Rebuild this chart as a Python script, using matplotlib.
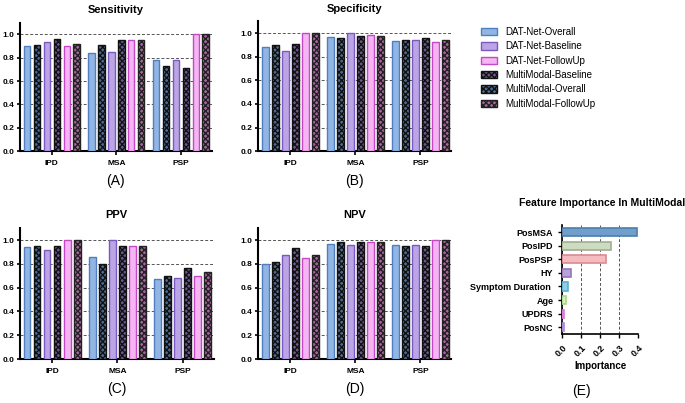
import matplotlib
matplotlib.use("Agg")
import matplotlib.pyplot as plt
import numpy as np

plt.rcParams['font.family'] = ['Liberation Sans', 'DejaVu Sans']

# ---- data ----
groups = ["IPD", "MSA", "PSP"]
series = ["DAT-Net-Overall", "MultiModal-Overall", "DAT-Net-Baseline",
          "MultiModal-Baseline", "DAT-Net-FollowUp", "MultiModal-FollowUp"]

# each row = one group (IPD, MSA, PSP), columns in the order of `series`
sensitivity = [[0.90, 0.91, 0.93, 0.96, 0.90, 0.92],
               [0.84, 0.91, 0.85, 0.95, 0.95, 0.95],
               [0.78, 0.73, 0.78, 0.71, 1.00, 1.00]]
specificity = [[0.88, 0.90, 0.85, 0.91, 1.00, 1.00],
               [0.97, 0.955, 1.00, 0.98, 0.985, 0.98],
               [0.93, 0.94, 0.94, 0.96, 0.925, 0.94]]
ppv = [[0.94, 0.95, 0.92, 0.95, 1.00, 1.00],
       [0.855, 0.80, 1.00, 0.95, 0.95, 0.95],
       [0.67, 0.70, 0.685, 0.765, 0.695, 0.735]]
npv = [[0.80, 0.815, 0.875, 0.935, 0.845, 0.87],
       [0.965, 0.98, 0.96, 0.985, 0.985, 0.985],
       [0.96, 0.95, 0.96, 0.95, 1.00, 1.00]]

features = ["PosMSA", "PosIPD", "PosPSP", "HY", "Symptom Duration ", "Age", "UPDRS", "PosNC"]
importance = [0.39, 0.255, 0.228, 0.044, 0.032, 0.019, 0.01, 0.01]

legend_order = ["DAT-Net-Overall", "DAT-Net-Baseline", "DAT-Net-FollowUp",
                "MultiModal-Baseline", "MultiModal-Overall", "MultiModal-FollowUp"]

# styles per series
styles = {
    "DAT-Net-Overall":     dict(facecolor="#93b5e3", edgecolor="#4f7fc0", hatch=None),
    "MultiModal-Overall":  dict(facecolor="#4d6c94", edgecolor="#111111", hatch="xxxxxx"),
    "DAT-Net-Baseline":    dict(facecolor="#bba5e4", edgecolor="#7a5ac2", hatch=None),
    "MultiModal-Baseline": dict(facecolor="#6c5a8e", edgecolor="#111111", hatch="xxxxxx"),
    "DAT-Net-FollowUp":    dict(facecolor="#f4b5f2", edgecolor="#c548c6", hatch=None),
    "MultiModal-FollowUp": dict(facecolor="#aa66a2", edgecolor="#222222", hatch="xxxxxx"),
}
feat_fill = ["#6f9fcc", "#cddcc0", "#f5bcc0", "#b9a2d8", "#8fcfe6", "#d4f2b8", "#f2a8ea", "#c8b0ea"]
feat_edge = ["#4e7ea8", "#9fae92", "#dc8a92", "#9278b6", "#5eaecd", "#a8d88a", "#d878d0", "#a68ad0"]

fig = plt.figure(figsize=(6.85, 4.03), dpi=100)

GAP = 6.5
W = 0.65


def bar_panel(rect, data, title, tag):
    ax = fig.add_axes(rect)
    data = np.array(data)
    for gi in range(len(groups)):
        for si, name in enumerate(series):
            st = styles[name]
            ax.bar(gi * GAP + si, data[gi, si], width=W, facecolor=st["facecolor"],
                   edgecolor=st["edgecolor"], hatch=st["hatch"], linewidth=1.0,
                   zorder=3, label=name if gi == 0 else None)
    ax.set_xlim(-0.725, 18.6)
    ax.set_ylim(0, 1.1)
    ax.set_yticks([0, 0.2, 0.4, 0.6, 0.8, 1.0])
    ax.set_yticklabels(["0.0", "0.2", "0.4", "0.6", "0.8", "1.0"])
    ax.set_xticks([g * GAP + 2.5 for g in range(len(groups))])
    ax.set_xticklabels(groups)
    ax.yaxis.grid(True, linestyle=(0, (3, 2)), color="#555555", linewidth=0.7, zorder=0)
    for s in ["top", "right"]:
        ax.spines[s].set_visible(False)
    for s in ["left", "bottom"]:
        ax.spines[s].set_linewidth(1.5)
    ax.tick_params(labelsize=6, width=1.2, length=3)
    ax.tick_params(axis="y", pad=1.5, length=2.5)
    for lb in ax.get_xticklabels() + ax.get_yticklabels():
        lb.set_fontweight("bold")
    ax.set_title(title, fontsize=8, fontweight="bold", pad=7)
    ax.text(0.5, -0.23, tag, transform=ax.transAxes, ha="center", va="center", fontsize=10)
    return ax


axA = bar_panel([0.029, 0.625, 0.280, 0.319], sensitivity, "Sensitivity", "(A)")
axB = bar_panel([0.377, 0.625, 0.282, 0.322], specificity, "Specificity", "(B)")
axC = bar_panel([0.029, 0.109, 0.283, 0.325], ppv, "PPV", "(C)")
axD = bar_panel([0.377, 0.109, 0.282, 0.325], npv, "NPV", "(D)")

# legend
handles, labels = axA.get_legend_handles_labels()
hmap = dict(zip(labels, handles))
fig.legend([hmap[n] for n in legend_order], legend_order, loc="upper left",
           bbox_to_anchor=(0.69, 0.955), frameon=False, fontsize=7,
           handlelength=1.6, handleheight=0.8, labelspacing=0.45, handletextpad=0.9)

# feature importance
axE = fig.add_axes([0.821, 0.171, 0.111, 0.270])
ypos = np.arange(len(features))
axE.barh(ypos, importance, height=0.6, color=feat_fill, edgecolor=feat_edge,
         linewidth=1.2, zorder=3)
axE.set_ylim(len(features) - 0.5, -0.5)
axE.set_xlim(0, 0.4)
axE.set_xticks([0, 0.1, 0.2, 0.3, 0.4])
axE.set_xticklabels(["0.0", "0.1", "0.2", "0.3", "0.4"], rotation=45, ha="right",
                    rotation_mode="anchor")
axE.set_yticks(ypos)
axE.set_yticklabels(features)
axE.xaxis.grid(True, linestyle=(0, (3, 2)), color="#555555", linewidth=0.7, zorder=0)
for s in ["top", "right"]:
    axE.spines[s].set_visible(False)
for s in ["left", "bottom"]:
    axE.spines[s].set_linewidth(1.2)
axE.tick_params(labelsize=6.5, width=1.0, length=3)
for lb in axE.get_xticklabels() + axE.get_yticklabels():
    lb.set_fontweight("bold")
axE.set_xlabel("Importance", fontsize=7, fontweight="bold", labelpad=2)
axE.set_title("Feature Importance In MultiModal", fontsize=7.5, fontweight="bold",
              pad=14, x=0.52)
axE.text(0.25, -0.52, "(E)", transform=axE.transAxes, ha="center", va="center", fontsize=10)

fig.savefig("out.png", dpi=100)
